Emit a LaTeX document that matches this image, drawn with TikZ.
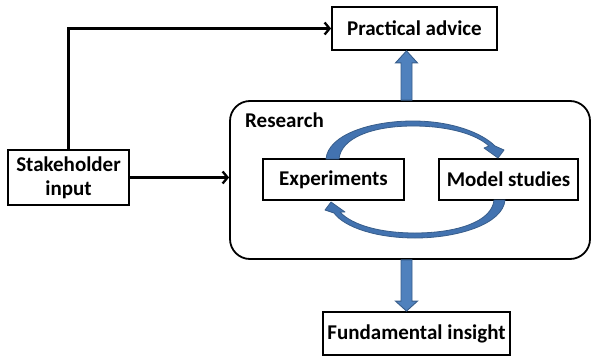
\documentclass[tikz,border=0pt]{standalone}
\usepackage{fontspec}
\setmainfont{Carlito}
\usetikzlibrary{arrows.meta,calc}
\definecolor{blockfill}{HTML}{4F81BD}
\definecolor{blockline}{HTML}{385D8A}
\definecolor{loopfill}{HTML}{4373B0}
\begin{document}
\begin{tikzpicture}[x=1pt,y=-1pt,
  txt/.style={font=\fontsize{21}{24}\selectfont\bfseries},
  box/.style={txt,draw,line width=1.8pt,fill=white,inner sep=0pt,align=center},
  flow/.style={line width=2.3pt,-{Straight Barb[length=5pt,width=12pt,line width=2.3pt]}},
  blockarrow/.style={fill=blockfill,draw=blockline,line width=0.9pt,line join=miter},
  loop/.style={fill=loopfill,draw=blockline,line width=0.8pt,line join=round}]
\useasboundingbox (0,0) rectangle (591,356);

% outer boxes
\node[box,minimum width=165pt,minimum height=43pt] (advice) at (414.5,28.5) {Practical advice};
\node[box,minimum width=121pt,minimum height=55pt] (stake) at (68.5,177.5) {Stakeholder\\input};
\node[box,rounded corners=20pt,minimum width=360pt,minimum height=158pt] (research) at (410,180) {};
\node[txt,anchor=base west,inner sep=0pt] (reslabel) at (245,127) {Research};
\node[box,minimum width=187pt,minimum height=43pt] (insight) at (416.5,333.5) {Fundamental insight};

% inner boxes
\node[box,minimum width=141pt,minimum height=41pt] (exp) at (333.5,179.5) {Experiments};
\node[box,minimum width=139pt,minimum height=41pt] (model) at (508.5,179.5) {Model studies};

% stakeholder connectors
\draw[flow] (stake.north) |- (advice.west);
\draw[flow] (stake.east) -- (stake.east -| research.west);

% block arrows out of the research box
\coordinate (axis) at (406.5,0);
\draw[blockarrow]
  ($(axis |- research.north)+(-5.5,0)$) -- ($(axis |- advice.south)+(-5.5,12)$)
  -- ($(axis |- advice.south)+(-11,12)$) -- (axis |- advice.south)
  -- ($(axis |- advice.south)+(11,12)$) -- ($(axis |- advice.south)+(5.5,12)$)
  -- ($(axis |- research.north)+(5.5,0)$) -- cycle;
\draw[blockarrow]
  ($(axis |- research.south)+(-5.5,0)$) -- ($(axis |- insight.north)+(-5.5,-10)$)
  -- ($(axis |- insight.north)+(-11,-10)$) -- (axis |- insight.north)
  -- ($(axis |- insight.north)+(11,-10)$) -- ($(axis |- insight.north)+(5.5,-10)$)
  -- ($(axis |- research.south)+(5.5,0)$) -- cycle;

% research cycle: experiments -> model studies
\draw[loop] (339,159) -- (326,159)
  .. controls (328,135) and (370,121) .. (413,121)
  .. controls (452,121) and (482,133) .. (495,146)
  -- (504,150) -- (498,158) -- (484,148) -- (489,146)
  .. controls (476,134) and (448,126) .. (413,126)
  .. controls (372,126) and (341,138) .. (339,159) -- cycle;
% research cycle: model studies -> experiments
\draw[loop] (494,200) -- (505,200)
  .. controls (503,224) and (458,238) .. (415,238)
  .. controls (378,238) and (345,228) .. (334,213)
  -- (325,210) -- (331,202) -- (345,212) -- (340,212)
  .. controls (352,225) and (380,233) .. (415,233)
  .. controls (456,233) and (492,222) .. (494,200) -- cycle;
\end{tikzpicture}
\end{document}
